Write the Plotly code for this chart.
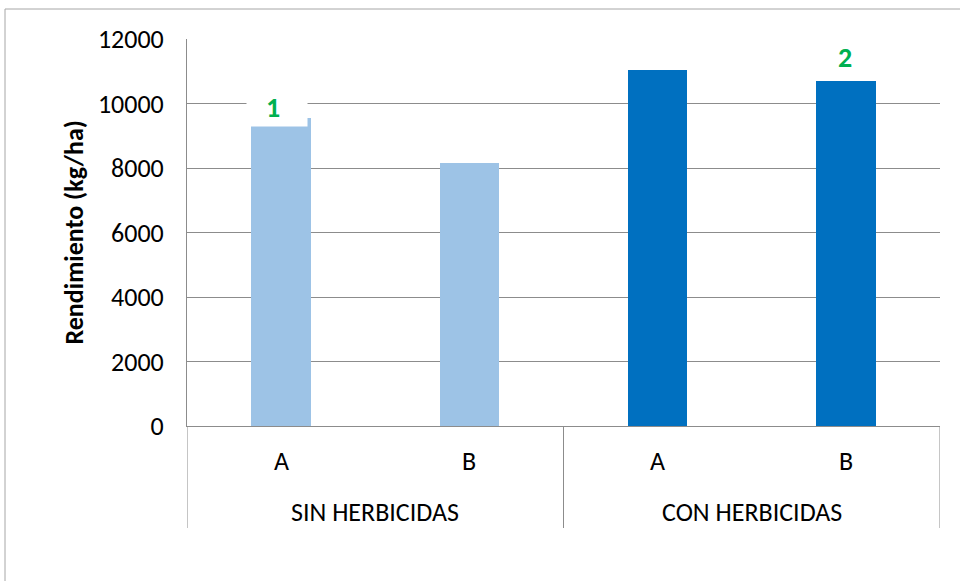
import plotly.graph_objects as go

groups = ["SIN HERBICIDAS", "SIN HERBICIDAS", "CON HERBICIDAS", "CON HERBICIDAS"]
subcats = ["A", "B", "A", "B"]
values = [9540, 8155, 11025, 10690]
colors = ["#9DC3E6", "#9DC3E6", "#0070C0", "#0070C0"]
group_names = ["SIN HERBICIDAS", "CON HERBICIDAS"]
y_ticks = [0, 2000, 4000, 6000, 8000, 10000, 12000]
y_title = "Rendimiento (kg/ha)"
point_labels = {0: "1", 3: "2"}

FONT = "Carlito, Lato, sans-serif"
GRID = "#8c8c8c"
xpos = list(range(len(values)))

fig = go.Figure()
fig.add_trace(go.Bar(x=xpos, y=values, marker=dict(color=colors, line=dict(width=0)),
                     width=0.315, showlegend=False, hoverinfo="skip"))

W, H = 960, 581
L, R, T, B = 187, 20, 39, 155
pw, ph = W - L - R, H - T - B

def px_x(p):
    return (p - L) / pw

def px_y(p):
    return (H - B - p) / ph

shapes = []
# chart area frame
shapes.append(dict(type="line", xref="paper", yref="paper", x0=px_x(5), x1=px_x(965),
                   y0=px_y(9), y1=px_y(9), line=dict(color="#a6a6a6", width=1)))
shapes.append(dict(type="line", xref="paper", yref="paper", x0=px_x(5), x1=px_x(5),
                   y0=px_y(9), y1=px_y(590), line=dict(color="#a6a6a6", width=1)))
# category dividers
for xv in [-0.5, 1.5, 3.5]:
    shapes.append(dict(type="line", xref="x", yref="paper", x0=xv, x1=xv,
                       y0=0, y1=px_y(528), line=dict(color=GRID, width=1)))
fig.update_layout(shapes=shapes)

ann = []
for i, s in enumerate(subcats):
    ann.append(dict(x=xpos[i], y=px_y(461), xref="x", yref="paper", text=s, showarrow=False,
                    font=dict(family=FONT, size=26, color="#000"), yanchor="middle"))
for gi, g in enumerate(group_names):
    idx = [i for i, gg in enumerate(groups) if gg == g]
    cx = sum(xpos[i] for i in idx) / len(idx)
    ann.append(dict(x=cx, y=px_y(512), xref="x", yref="paper", text=g, showarrow=False,
                    font=dict(family=FONT, size=26, color="#000"), yanchor="middle"))
for i, t in point_labels.items():
    if i == 0:
        # white label background box
        ann.append(dict(x=xpos[i], y=values[i], xref="x", yref="y", text=" ",
                        showarrow=False, font=dict(family=FONT, size=10, color="#fff"),
                        bgcolor="white", width=58, height=28, xshift=-4, yshift=7,
                        yanchor="middle"))
        ann.append(dict(x=xpos[i], y=values[i], xref="x", yref="y", text="<b>%s</b>" % t,
                        showarrow=False, font=dict(family=FONT, size=28, color="#00B050"),
                        xshift=-8, yshift=11, yanchor="middle"))
    else:
        ann.append(dict(x=xpos[i], y=values[i], xref="x", yref="y", text="<b>%s</b>" % t,
                        showarrow=False, font=dict(family=FONT, size=28, color="#00B050"),
                        xshift=-1, yshift=4, yanchor="bottom"))
# y-axis title
ann.append(dict(x=px_x(73), y=0.5, xref="paper", yref="paper", text="<b>%s</b>" % y_title,
                textangle=-90, showarrow=False, xanchor="center", yanchor="middle",
                font=dict(family=FONT, size=26, color="#000")))
fig.update_layout(annotations=ann)

fig.update_layout(
    width=W, height=H, margin=dict(l=L, r=R, t=T, b=B),
    paper_bgcolor="white", plot_bgcolor="white",
    bargap=0,
    xaxis=dict(range=[-0.5, 3.5], showticklabels=False, showgrid=False, zeroline=False,
               showline=True, linecolor=GRID, linewidth=1, ticks="", fixedrange=True),
    yaxis=dict(range=[0, 12000], tickvals=y_ticks, ticktext=[str(v) for v in y_ticks],
               showgrid=True, gridcolor=GRID, gridwidth=1, zeroline=False,
               showline=True, linecolor=GRID, linewidth=1, ticks="outside", ticklen=17,
               tickcolor="rgba(0,0,0,0)",
               tickfont=dict(family=FONT, size=26, color="#000")),
)

fig.write_html("out.html", post_script="document.body.style.margin='0';",
               config={"displayModeBar": False})
